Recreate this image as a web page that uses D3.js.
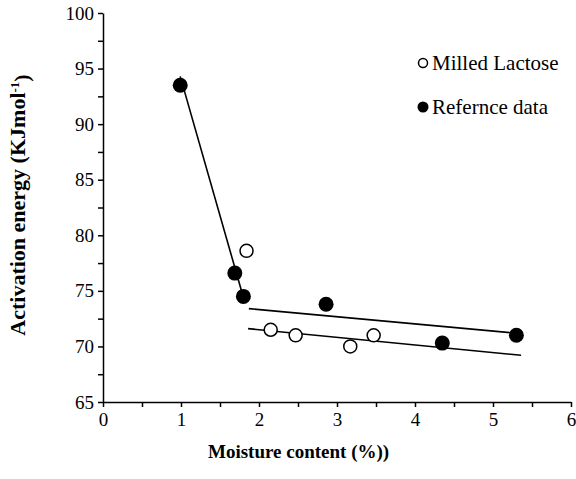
<!DOCTYPE html>
<html>
<head>
<meta charset="utf-8">
<script src="https://cdn.jsdelivr.net/npm/d3@7"></script>
<style>
  body { margin: 0; background: #fff; }
  svg text { font-family: "Liberation Serif", "Times New Roman", serif; fill: #000; }
  .axis path, .axis line { stroke: #000; stroke-width: 1.5; }
  .axis text { font-size: 19px; }
  .title { font-weight: bold; }
  .legend { font-size: 21px; }
</style>
</head>
<body>
<svg width="576" height="479"></svg>
<script>
// series values
var milledX = [1.84, 2.15, 2.47, 3.17, 3.47];
var milledY = [78.6, 71.5, 71.0, 70.0, 71.0];
var refX = [0.99, 1.69, 1.80, 2.86, 4.35, 5.30];
var refY = [93.5, 76.6, 74.5, 73.8, 70.3, 71.0];

// fitted trend lines (end points)
var steepLine = [[0.99, 94.3], [1.80, 74.4]];
var upperLine = [[1.87, 73.4], [5.28, 71.2]];
var lowerLine = [[1.86, 71.6], [5.36, 69.2]];

var xTicks = [0, 1, 2, 3, 4, 5, 6];
var yTicks = [65, 70, 75, 80, 85, 90, 95, 100];

var margin = { top: 13, right: 5, bottom: 77, left: 103 },
    width = 576 - margin.left - margin.right,
    height = 479 - margin.top - margin.bottom;

var svg = d3.select("svg"),
    g = svg.append("g").attr("transform", "translate(" + margin.left + "," + margin.top + ")");

var x = d3.scaleLinear().domain([0, 6]).range([0, width]);
var y = d3.scaleLinear().domain([65, 100]).range([height, 0]);

// minor ticks first, then labelled axes on top
g.append("g").attr("class", "axis")
    .attr("transform", "translate(0," + height + ")")
    .call(d3.axisBottom(x).tickValues(d3.range(0.5, 6, 1)).tickSize(5).tickFormat(""))
    .select(".domain").remove();
g.append("g").attr("class", "axis")
    .call(d3.axisLeft(y).tickValues(d3.range(67.5, 100, 5)).tickSize(5).tickFormat(""))
    .select(".domain").remove();

g.append("g").attr("class", "axis")
    .attr("transform", "translate(0," + height + ")")
    .call(d3.axisBottom(x).tickValues(xTicks).tickSize(5).tickSizeOuter(0).tickPadding(6).tickFormat(d3.format("d")));
g.append("g").attr("class", "axis")
    .call(d3.axisLeft(y).tickValues(yTicks).tickSize(5).tickSizeOuter(0).tickPadding(4).tickFormat(d3.format("d")));

g.selectAll(".axis").attr("font-family", null).attr("font-size", null);

// trend lines
var line = d3.line().x(function (d) { return x(d[0]); }).y(function (d) { return y(d[1]); });
[steepLine, upperLine, lowerLine].forEach(function (l) {
    g.append("path").attr("d", line(l))
        .attr("fill", "none").attr("stroke", "#000").attr("stroke-width", 1.6);
});

// points
g.selectAll(".ref").data(refX).enter().append("circle")
    .attr("class", "ref")
    .attr("cx", function (d) { return x(d); })
    .attr("cy", function (d, i) { return y(refY[i]); })
    .attr("r", 7.5).attr("fill", "#000");

g.selectAll(".milled").data(milledX).enter().append("circle")
    .attr("class", "milled")
    .attr("cx", function (d) { return x(d); })
    .attr("cy", function (d, i) { return y(milledY[i]); })
    .attr("r", 6.5).attr("fill", "#fff").attr("stroke", "#000").attr("stroke-width", 1.5);

// legend
var legend = svg.append("g").attr("transform", "translate(423,0)");
legend.append("circle").attr("cx", 0).attr("cy", 63).attr("r", 4.5)
    .attr("fill", "#fff").attr("stroke", "#000").attr("stroke-width", 1.5);
legend.append("text").attr("class", "legend").attr("x", 9).attr("y", 63).attr("dy", "0.33em")
    .text("Milled Lactose");
legend.append("circle").attr("cx", 0).attr("cy", 107).attr("r", 5.5).attr("fill", "#000");
legend.append("text").attr("class", "legend").attr("x", 9).attr("y", 107).attr("dy", "0.33em")
    .text("Refernce data");

// axis titles
svg.append("text").attr("class", "title")
    .attr("x", 208).attr("y", 458).style("font-size", "19px")
    .text("Moisture content (%))");

var yt = svg.append("text").attr("class", "title").style("font-size", "22px")
    .attr("transform", "translate(25,205) rotate(-90)")
    .attr("text-anchor", "middle");
yt.append("tspan").text("Activation energy (KJmol");
yt.append("tspan").attr("dy", "-0.45em").style("font-size", "13px").text("-1");
yt.append("tspan").attr("dy", "0.45em").text(")");
</script>
</body>
</html>
